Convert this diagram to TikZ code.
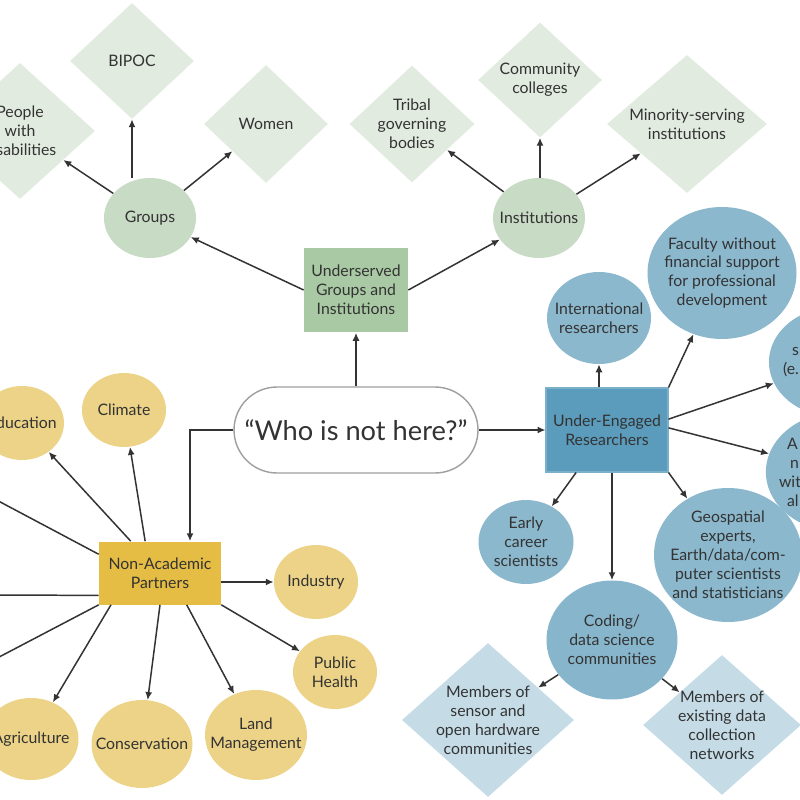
\documentclass[tikz,border=0pt]{standalone}
\usepackage{fontspec}
\setmainfont{Lato}
\usetikzlibrary{shapes.geometric,arrows.meta}
\definecolor{dmdgreen}{HTML}{E1EBDF}
\definecolor{circgreen}{HTML}{C8DBC5}
\definecolor{boxgreen}{HTML}{A9C9A4}
\definecolor{boxblue}{HTML}{5B9BBB}
\definecolor{circblue}{HTML}{8BB8CD}
\definecolor{dmdblue}{HTML}{C5DCE7}
\definecolor{boxgold}{HTML}{E5BD44}
\definecolor{circgold}{HTML}{ECD387}
\definecolor{ink}{HTML}{333333}
\tikzset{
  base/.style={text=ink, font=\fontsize{9}{10.8}\selectfont, align=center},
  gdmd/.style 2 args={base, shape=diamond, fill=dmdgreen, inner sep=-10pt, minimum width=#1, minimum height=#2},
  bdmd/.style 2 args={base, shape=diamond, fill=dmdblue, inner sep=-10pt, minimum width=#1, minimum height=#2},
  gcirc/.style={base, shape=ellipse, fill=circgreen, inner sep=-10pt, minimum width=1.84cm, minimum height=1.6cm},
  bcirc/.style 2 args={base, shape=ellipse, fill=circblue, inner sep=-10pt, minimum width=#1, minimum height=#2},
  ycirc/.style 2 args={base, shape=ellipse, fill=circgold, inner sep=-10pt, minimum width=#1, minimum height=#2},
  hubbox/.style 2 args={base, shape=rectangle, inner sep=2pt, minimum width=#1, minimum height=#2},
  arr/.style={draw=ink, line width=0.85pt, -{Latex[length=4.5pt,width=4pt]}}
}
\begin{document}
\begin{tikzpicture}[x=0.02cm, y=-0.02cm]
	\useasboundingbox (0,0) rectangle (800,800);
	\clip (0,0) rectangle (800,800);
	\fill[white] (0,0) rectangle (800,800);
	% Centre question:
	\node[base, shape=rectangle, draw=gray!75, line width=0.8pt, rounded corners=0.86cm, minimum width=4.88cm, minimum height=1.72cm, font=\fontsize{15.5}{18}\selectfont] (who) at (356,430) {“Who is not here?”};
	% Underserved groups and institutions:
	\node[hubbox={2.08cm}{1.7cm}, fill=boxgreen] (ugi) at (356,290) {Underserved\\Groups and\\Institutions};
	\node[gcirc] (grp) at (150,218) {Groups};
	\node[gcirc] (ins) at (539,218) {Institutions};
	\node[gdmd={3cm}{2.72cm}] (ppl) at (20,131) {People\\with\\disabilities};
	\node[gdmd={2.48cm}{2.32cm}] (bip) at (132,61) {BIPOC};
	\node[gdmd={2.48cm}{2.36cm}] (wom) at (266,124) {Women};
	\node[gdmd={2.5cm}{2.34cm}] (tri) at (412,124) {Tribal\\governing\\bodies};
	\node[gdmd={2.48cm}{2.3cm}] (com) at (540,80) {Community\\colleges};
	\node[gdmd={3.2cm}{2.76cm}] (msi) at (687,124) {Minority-serving\\institutions};
	% Under-engaged researchers:
	\node[hubbox={2.44cm}{1.68cm}, fill=boxblue, draw=boxblue!80!white, line width=0.6pt] (uer) at (607,430) {Under-Engaged\\Researchers};
	\node[bcirc={2.08cm}{1.84cm}] (intl) at (599,318) {International\\researchers};
	\node[bcirc={2.98cm}{2.64cm}] (fac) at (722,273) {Faculty without\\financial support\\for professional\\development};
	\node[bcirc={2.68cm}{2.2cm}, text width=2.6cm, align=left] (smi) at (836,362) {\hspace*{0.42cm}s\\\hspace*{0.24cm}(e.};
	\node[bcirc={2.8cm}{2.4cm}, text width=2.8cm, align=left] (aca) at (840,472) {\hspace*{0.34cm}A\\\hspace*{0.4cm}n\\\hspace*{0.18cm}wit\\\hspace*{0.34cm}al};
	\node[bcirc={1.9cm}{1.68cm}] (ecs) at (526,542) {Early\\career\\scientists};
	\node[bcirc={2.96cm}{2.68cm}] (geo) at (728,555) {Geospatial\\experts,\\Earth/data/com-\\puter scientists\\and statisticians};
	\node[bcirc={2.62cm}{2.38cm}, fill=circblue!92!boxblue] (cod) at (612,640) {Coding/\\data science\\communities};
	\node[bdmd={3.44cm}{3.08cm}] (sen) at (488,720) {Members of\\sensor and\\open hardware\\communities};
	\node[bdmd={3.16cm}{2.8cm}] (net) at (722,725) {Members of\\existing data\\collection\\networks};
	% Non-academic partners:
	\node[hubbox={2.44cm}{1.26cm}, fill=boxgold] (nap) at (160,573) {Non-Academic\\Partners};
	\node[ycirc={1.68cm}{1.48cm}] (edu) at (22,423) {Education};
	\node[ycirc={1.68cm}{1.48cm}] (cli) at (124,410) {Climate};
	\node[ycirc={1.68cm}{1.48cm}] (ind) at (316,582) {Industry};
	\node[ycirc={1.68cm}{1.48cm}] (phe) at (335,672) {Public\\Health};
	\node[ycirc={2.04cm}{1.8cm}] (lnd) at (256,735) {Land\\Management};
	\node[ycirc={2.02cm}{1.76cm}] (con) at (142,744) {Conservation};
	\node[ycirc={1.9cm}{1.64cm}] (agr) at (31,739) {Agriculture};
	\coordinate (offa) at (-60,470);
	\coordinate (offb) at (-60,595);
	\coordinate (offc) at (-60,688);
	% Connectors:
	\draw[arr] (who.north) -- (ugi.south);
	\draw[arr] (who.east) -- (uer.west);
	\draw[arr] (who.west) -| ([xshift=0.6cm]nap.north);
	\draw[arr] (ugi.west) -- (grp);
	\draw[arr] (ugi.east) -- (ins);
	\draw[arr] (grp) -- (ppl);
	\draw[arr] (bip.south |- grp.north) -- (bip.south);
	\draw[arr] (grp) -- (wom);
	\draw[arr] (ins) -- (tri);
	\draw[arr] (com.south |- ins.north) -- (com.south);
	\draw[arr] (ins) -- (msi);
	\draw[arr] (intl.south |- uer.north) -- (intl.south);
	\draw[arr] (uer.north east) -- (fac);
	\draw[arr] (uer.10) -- (smi);
	\draw[arr] (uer.2) -- (aca);
	\draw[arr] (uer.south east) -- (geo);
	\draw[arr] (uer.-126) -- (ecs);
	\draw[arr] (cod.north |- uer.south) -- (cod.north);
	\draw[arr] (cod) -- (sen);
	\draw[arr] (cod) -- (net);
	\draw[arr] (nap) -- (edu);
	\draw[arr] (nap.115) -- (cli);
	\draw[arr] (nap.east |- ind.west) -- (ind.west);
	\draw[arr] (nap.south east) -- (phe);
	\draw[arr] (nap.-50) -- (lnd);
	\draw[arr] (nap.south) -- (con);
	\draw[arr] (nap.-147) -- (agr);
	\draw[arr] (nap.163) -- (offa);
	\draw[arr] (nap.-160) -- (offb);
	\draw[arr] (nap.south west) -- (offc);
\end{tikzpicture}
\end{document}
